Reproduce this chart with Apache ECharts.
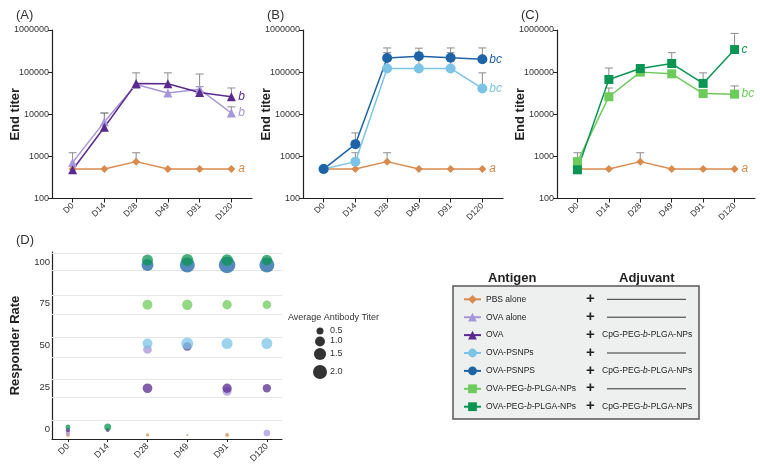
<!DOCTYPE html>
<html>
<head>
<meta charset="utf-8">
<script src="https://cdn.jsdelivr.net/npm/echarts@6/dist/echarts.min.js"></script>
<style>
  html, body { margin: 0; padding: 0; background: #fff; }
  #chart { width: 762px; height: 468px; }
</style>
</head>
<body>
<div id="chart"></div>
<script>
// days of sampling
var days = ['D0', 'D14', 'D28', 'D49', 'D91', 'D120'];
var rateTicks = [0, 25, 50, 75, 100];

// end titers (mean) and top of error bar, one value per day
var pbsTiter      = [500, 500, 750, 500, 500, 500];
var pbsErr        = [null, null, 1220, null, null, null];
var ovaAloneTiter = [720, 6600, 51000, 32000, 39000, 10700];
var ovaAloneErr   = [1220, 10700, 96000, null, 90000, 15000];
var ovaCpgTiter   = [480, 4900, 54000, 53000, 33000, 26000];
var ovaCpgErr     = [null, 10700, null, 96000, 45000, 42000];
var psnpTiter     = [500, 750, 122000, 122000, 122000, 41000];
var psnpErr       = [null, 1220, 290000, 290000, 290000, 96000];
var psnpCpgTiter  = [500, 1950, 217000, 238000, 220000, 202000];
var psnpCpgErr    = [null, 3600, 375000, 370000, 375000, 375000];
var pegTiter      = [750, 26000, 100000, 91000, 31000, 30000];
var pegErr        = [1220, 42000, null, null, null, 47000];
var pegCpgTiter   = [480, 67000, 122000, 160000, 54000, 343000];
var pegCpgErr     = [null, 125000, 130000, 290000, 96000, 830000];

// responder rate: [day index, rate %, average antibody titer]
var respPbs      = [[0, 0, 0.15], [2, 0, 0.11], [3, 0, 0.04], [4, 0, 0.16]];
var respOvaAlone = [[0, 0, 0.2], [2, 50, 0.77], [4, 25, 0.83], [5, 0, 0.45]];
var respOva      = [[0, 0, 0.2], [1, 0, 0.16], [2, 25, 0.95], [3, 50, 0.77], [4, 25, 0.89], [5, 25, 0.7]];
var respPsnp     = [[2, 50, 1.0], [3, 50, 1.47], [4, 50, 1.23], [5, 50, 1.23]];
var respPsnpCpg  = [[2, 100, 1.45], [3, 100, 2.3], [4, 100, 2.8], [5, 100, 2.3]];
var respPeg      = [[2, 75, 1.0], [3, 75, 1.08], [4, 75, 0.89], [5, 75, 0.77]];
var respPegCpg   = [[0, 0, 0.25], [1, 0, 0.5], [2, 100, 1.23], [3, 100, 1.47], [4, 100, 1.39], [5, 100, 1.16]];
var sizeLegendVals = [0.5, 1.0, 1.5, 2.0];

// legend table
var antigenNames = ['PBS alone', 'OVA alone', 'OVA', 'OVA-PSNPs', 'OVA-PSNPS', 'OVA-PEG-b-PLGA-NPs', 'OVA-PEG-b-PLGA-NPs'];
var adjuvants = ['', '', 'CpG-PEG-b-PLGA-NPs', '', 'CpG-PEG-b-PLGA-NPs', '', 'CpG-PEG-b-PLGA-NPs'];

var FONT = 'Liberation Sans, Arial, sans-serif';
var groups = [
    {key: 'g0', color: '#d98b4e', symbol: 'diamond', size: 8,  titer: pbsTiter,      err: pbsErr,      resp: respPbs,      dy: 6},
    {key: 'g1', color: '#a796d8', symbol: 'triangle', size: 9, titer: ovaAloneTiter, err: ovaAloneErr, resp: respOvaAlone, dy: 4},
    {key: 'g2', color: '#5a2a8f', symbol: 'triangle', size: 9, titer: ovaCpgTiter,   err: ovaCpgErr,   resp: respOva,      dy: 1},
    {key: 'g3', color: '#7cc4e6', symbol: 'circle', size: 10,  titer: psnpTiter,     err: psnpErr,     resp: respPsnp,     dy: -2},
    {key: 'g4', color: '#1d63a6', symbol: 'circle', size: 10,  titer: psnpCpgTiter,  err: psnpCpgErr,  resp: respPsnpCpg,  dy: 3},
    {key: 'g5', color: '#6dcb5c', symbol: 'rect', size: 9,     titer: pegTiter,      err: pegErr,      resp: respPeg,      dy: 1},
    {key: 'g6', color: '#0a9652', symbol: 'rect', size: 9,     titer: pegCpgTiter,   err: pegCpgErr,   resp: respPegCpg,   dy: -2}
];
// which groups go in which panel, with their significance letter
var panels = [
    {title: '(A)', left: 52,  width: 200, items: [[0, 'a'], [1, 'b'], [2, 'b']]},
    {title: '(B)', left: 303, width: 200, items: [[0, 'a'], [3, 'bc'], [4, 'bc']]},
    {title: '(C)', left: 557, width: 198, items: [[0, 'a'], [5, 'bc'], [6, 'c']]}
];

function bubble(v) { return Math.max(2, 9.9 * Math.sqrt(v)); }

function renderErr(params, api) {
    var p = api.coord([api.value(0), api.value(1)]);
    var t = api.coord([api.value(0), api.value(2)]);
    var st = {stroke: '#8c8c8c', lineWidth: 1};
    return {type: 'group', children: [
        {type: 'line', shape: {x1: p[0], y1: p[1], x2: t[0], y2: t[1]}, style: st},
        {type: 'line', shape: {x1: t[0] - 4, y1: t[1], x2: t[0] + 4, y2: t[1]}, style: st}
    ]};
}

var axisLineStyle = {color: '#222', width: 1.2};
var grids = [], xAxes = [], yAxes = [], series = [], titles = [];

panels.forEach(function (pn, k) {
    grids.push({left: pn.left, top: 30, width: pn.width, height: 168.5});
    titles.push({text: pn.title, left: pn.left - 36, top: 9, padding: 0,
        textStyle: {fontFamily: FONT, fontSize: 13, fontWeight: 'normal', color: '#333'}});
    xAxes.push({
        type: 'value', gridIndex: k, min: -0.65, max: 5.65,
        axisLine: {onZero: false, lineStyle: axisLineStyle},
        axisTick: {customValues: [0, 1, 2, 3, 4, 5], length: 4, lineStyle: {color: '#222'}},
        axisLabel: {customValues: [0, 1, 2, 3, 4, 5], rotate: 45, margin: 6,
            fontFamily: FONT, fontSize: 8.5, color: '#333',
            formatter: function (v) { return days[Math.round(v)]; }},
        splitLine: {show: false}
    });
    yAxes.push({
        type: 'log', gridIndex: k, min: 100, max: 1000000, logBase: 10, interval: 1,
        name: 'End titer', nameLocation: 'middle', nameGap: 30, nameMoveOverlap: false,
        nameTextStyle: {fontFamily: FONT, fontSize: 13, fontWeight: 'bold', color: '#222'},
        axisLine: {show: true, onZero: false, lineStyle: axisLineStyle},
        axisTick: {show: true, length: 4, lineStyle: {color: '#222'}},
        axisLabel: {fontFamily: FONT, fontSize: 9, color: '#333', margin: 3,
            formatter: function (v) { return String(Math.round(v)); }},
        splitLine: {show: false}
    });
    pn.items.forEach(function (it) {
        var g = groups[it[0]];
        var errData = [];
        g.err.forEach(function (e, i) { if (e != null) errData.push([i, g.titer[i], e]); });
        series.push({
            type: 'custom', xAxisIndex: k, yAxisIndex: k, z: 1, silent: true,
            renderItem: renderErr, data: errData
        });
        series.push({
            type: 'line', name: g.key, xAxisIndex: k, yAxisIndex: k, z: 3,
            symbol: g.symbol, symbolSize: g.size,
            itemStyle: {color: g.color},
            lineStyle: {color: g.color, width: 1.5},
            data: g.titer.map(function (v, i) { return [i, v]; }),
            endLabel: {show: true, formatter: it[1], color: g.color, fontFamily: FONT,
                fontStyle: 'italic', fontSize: 12, distance: 7}
        });
    });
});

// panel D
grids.push({left: 52, top: 252, width: 230, height: 187});
titles.push({text: '(D)', left: 16, top: 234, padding: 0,
    textStyle: {fontFamily: FONT, fontSize: 13, fontWeight: 'normal', color: '#333'}});
xAxes.push({
    type: 'value', gridIndex: 3, min: -0.4, max: 5.38,
    axisLine: {onZero: false, lineStyle: axisLineStyle},
    axisTick: {customValues: [0, 1, 2, 3, 4, 5], length: 3, lineStyle: {color: '#222'}},
    axisLabel: {customValues: [0, 1, 2, 3, 4, 5], rotate: 45, margin: 6,
        fontFamily: FONT, fontSize: 9, color: '#333',
        formatter: function (v) { return days[Math.round(v)]; }},
    splitLine: {show: false}
});
yAxes.push({
    type: 'value', gridIndex: 3, min: -6, max: 106,
    name: 'Responder Rate', nameLocation: 'middle', nameGap: 30, nameMoveOverlap: false,
    nameTextStyle: {fontFamily: FONT, fontSize: 13, fontWeight: 'bold', color: '#222'},
    axisLine: {show: true, onZero: false, lineStyle: axisLineStyle},
    axisTick: {show: false},
    axisLabel: {customValues: rateTicks, fontFamily: FONT, fontSize: 9.5, color: '#333', margin: 2},
    splitLine: {show: false}
});
var bandLines = [5, 19, 30, 43, 55, 69, 80, 95, 105];
groups.forEach(function (g, i) {
    var s = {
        type: 'scatter', name: g.key, xAxisIndex: 3, yAxisIndex: 3,
        symbol: 'circle', symbolOffset: [0, g.dy],
        symbolSize: function (d) { return bubble(d[2]); },
        itemStyle: {color: g.color, opacity: 0.75},
        data: g.resp, z: 3 + i
    };
    if (i === 0) {
        s.markLine = {silent: true, symbol: 'none', label: {show: false},
            lineStyle: {color: '#e6e6e6', width: 1, type: 'solid'},
            data: bandLines.map(function (v) { return {yAxis: v}; })};
    }
    series.push(s);
});

// size legend and adjuvant column
var graphics = [];
graphics.push({type: 'text', left: 288, top: 313, z: 10,
    style: {text: 'Average Antibody Titer', font: '9px ' + FONT, fill: '#333'}});
var sizeY = [331, 341.5, 354, 372];
sizeLegendVals.forEach(function (v, i) {
    graphics.push({type: 'circle', z: 10, shape: {cx: 320, cy: sizeY[i], r: bubble(v) / 2},
        style: {fill: '#333'}});
    graphics.push({type: 'text', z: 10, x: 330, y: sizeY[i] - 5,
        style: {text: v.toFixed(1), font: '9px ' + FONT, fill: '#333'}});
});
graphics.push({type: 'rect', z: -1, shape: {x: 453, y: 286, width: 246, height: 133},
    style: {fill: '#eef0ef', stroke: '#555', lineWidth: 1.5}});
graphics.push({type: 'text', z: 10, x: 488, y: 272,
    style: {text: 'Antigen', font: 'bold 13px ' + FONT, fill: '#222'}});
graphics.push({type: 'text', z: 10, x: 619, y: 272,
    style: {text: 'Adjuvant', font: 'bold 13px ' + FONT, fill: '#222'}});
var rowTop = 299.3, rowStep = 17.9;
adjuvants.forEach(function (a, i) {
    var y = rowTop + i * rowStep;
    graphics.push({type: 'text', z: 10, x: 586, y: y - 8,
        style: {text: '+', font: 'bold 15px ' + FONT, fill: '#222'}});
    if (a) {
        graphics.push({type: 'text', z: 10, x: 602, y: y - 5,
            style: {text: a.replace('-b-', '-{i|b}-'), font: '8.5px ' + FONT, fill: '#222',
                rich: {i: {fontStyle: 'italic', fontSize: 8.5, fontFamily: FONT}}}});
    } else {
        graphics.push({type: 'line', z: 10, shape: {x1: 607, y1: y, x2: 686, y2: y},
            style: {stroke: '#333', lineWidth: 1}});
    }
});

var myChart = echarts.init(document.getElementById('chart'));
myChart.setOption({
    animation: false,
    title: titles,
    grid: grids,
    xAxis: xAxes,
    yAxis: yAxes,
    legend: {
        data: groups.map(function (g) { return g.key; }),
        orient: 'vertical', left: 463, top: rowTop - 5.5, padding: 0,
        itemWidth: 17, itemHeight: 11, itemGap: 6.9, selectedMode: false,
        textStyle: {fontFamily: FONT, fontSize: 8.5, color: '#222', lineHeight: 11,
            rich: {i: {fontStyle: 'italic', fontSize: 8.5, fontFamily: FONT, lineHeight: 11}}},
        formatter: function (name) {
            var idx = Number(name.slice(1));
            return antigenNames[idx].replace('-b-', '-{i|b}-');
        }
    },
    graphic: graphics,
    series: series
});
</script>
</body>
</html>
